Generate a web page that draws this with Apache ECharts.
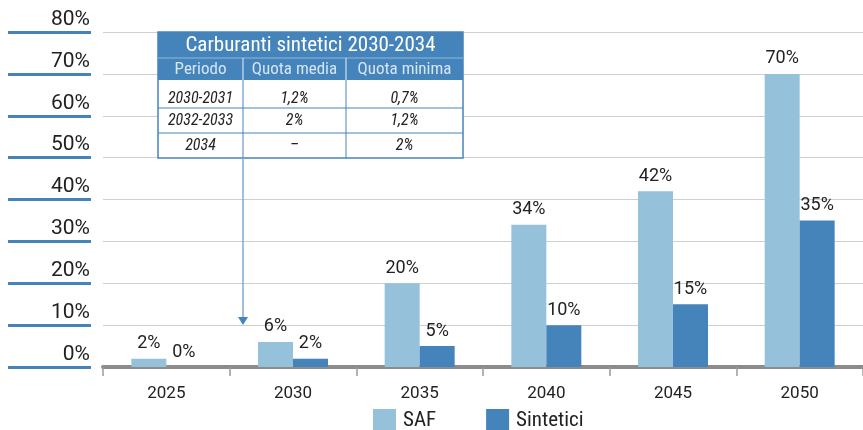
<!DOCTYPE html>
<html>
<head>
<meta charset="utf-8">
<script src="https://cdn.jsdelivr.net/npm/echarts@6/dist/echarts.min.js"></script>
<style>
  html, body { margin: 0; padding: 0; background: #fff; }
  #chart { width: 863px; height: 430px; }
</style>
</head>
<body>
<div id="chart"></div>
<script>
var years = ['2025', '2030', '2035', '2040', '2045', '2050'];
var saf = [2, 6, 20, 34, 42, 70];
var sintetici = [0, 2, 5, 10, 15, 35];

var tableTitle = 'Carburanti sintetici 2030-2034';
var tableHeader = ['Periodo', 'Quota media', 'Quota minima'];
var tableRows = [
  ['2030-2031', '1,2%', '0,7%'],
  ['2032-2033', '2%', '1,2%'],
  ['2034', '–', '2%']
];

var blue = '#4584bb';
var lightBlue = '#96c1da';
var narrow = '"Roboto Condensed", "Liberation Sans Narrow", "DejaVu Sans Condensed", Roboto, sans-serif';

// table box (annotation)
var colX = [158, 243, 346, 463];
var rowY = [32, 58, 80, 108, 133, 158];

function buildTable() {
  var els = [];
  var L = colX[0], R = colX[colX.length - 1];
  els.push({ type: 'rect', shape: { x: L, y: rowY[0], width: R - L, height: rowY[5] - rowY[0] },
    style: { fill: '#fff', stroke: blue, lineWidth: 1.5 }, z: 100 });
  els.push({ type: 'rect', shape: { x: L, y: rowY[0], width: R - L, height: rowY[2] - rowY[0] },
    style: { fill: blue }, z: 101 });
  els.push({ type: 'line', shape: { x1: L, y1: rowY[1], x2: R, y2: rowY[1] },
    style: { stroke: '#8fb6d8', lineWidth: 1 }, z: 102 });
  els.push({ type: 'text', x: (L + R) / 2, y: (rowY[0] + rowY[1]) / 2 + 1, z: 103,
    style: { text: tableTitle, fill: '#fff', font: '21px ' + narrow, align: 'center', verticalAlign: 'middle' } });
  for (var c = 0; c < tableHeader.length; c++) {
    els.push({ type: 'text', x: (colX[c] + colX[c + 1]) / 2, y: (rowY[1] + rowY[2]) / 2 + 1, z: 103,
      style: { text: tableHeader[c], fill: '#d6e5f2', font: '17px ' + narrow, align: 'center', verticalAlign: 'middle' } });
  }
  for (var i = 1; i < colX.length - 1; i++) {
    els.push({ type: 'line', shape: { x1: colX[i], y1: rowY[1], x2: colX[i], y2: rowY[2] },
      style: { stroke: '#e8f0f8', lineWidth: 1 }, z: 102 });
    els.push({ type: 'line', shape: { x1: colX[i], y1: rowY[2], x2: colX[i], y2: rowY[5] },
      style: { stroke: blue, lineWidth: 1 }, z: 102 });
  }
  var textY = [99, 121, 146];
  for (var r = 0; r < tableRows.length; r++) {
    if (r > 0) {
      els.push({ type: 'line', shape: { x1: L, y1: rowY[2 + r], x2: R, y2: rowY[2 + r] },
        style: { stroke: blue, lineWidth: 1 }, z: 102 });
    }
    for (var k = 0; k < tableRows[r].length; k++) {
      els.push({ type: 'text', x: (colX[k] + colX[k + 1]) / 2, y: textY[r], z: 103,
        style: { text: tableRows[r][k], fill: '#222', font: 'italic 16px ' + narrow, align: 'center', verticalAlign: 'middle' } });
    }
  }
  // pointer arrow down to 2030
  els.push({ type: 'line', shape: { x1: 243, y1: rowY[5], x2: 243, y2: 318 },
    style: { stroke: '#7eaad2', lineWidth: 1.5 }, z: 100 });
  els.push({ type: 'polygon', shape: { points: [[238, 317], [248, 317], [243, 325]] },
    style: { fill: blue }, z: 100 });
  return els;
}

var chart = echarts.init(document.getElementById('chart'));
chart.setOption({
  animation: false,
  textStyle: { fontFamily: 'Roboto, sans-serif' },
  grid: { left: 103, right: 0, top: 32, bottom: 63, containLabel: false },
  legend: {
    data: ['SAF', 'Sintetici'],
    left: 373, top: 409, padding: 0,
    icon: 'rect', itemWidth: 23, itemHeight: 23, itemGap: 50,
    textStyle: { fontSize: 21, fontFamily: narrow, color: '#222', padding: [2, 0, 0, 2] }
  },
  xAxis: {
    type: 'category',
    data: years,
    axisLine: { lineStyle: { color: '#8c8c8c', width: 4 } },
    axisTick: { show: true, length: 9, lineStyle: { color: '#9a9a9a', width: 1.5 } },
    axisLabel: { fontSize: 17, color: '#222', margin: 18 }
  },
  yAxis: {
    type: 'value',
    min: 0, max: 80, interval: 10,
    offset: 12,
    axisLine: { show: false },
    axisTick: { show: true, length: 83, lineStyle: { color: blue, width: 3 } },
    axisLabel: { fontSize: 21, color: '#222', margin: 1, verticalAlign: 'bottom', padding: [0, 0, 2, 0],
      formatter: '{value}%' },
    splitLine: { lineStyle: { color: '#cfcfcf', width: 1 } }
  },
  series: [
    {
      name: 'SAF', type: 'bar', data: saf, barWidth: 35, barGap: '0%',
      itemStyle: { color: lightBlue },
      label: { show: true, position: 'top', distance: 6, fontSize: 18, color: '#222', formatter: '{c}%' }
    },
    {
      name: 'Sintetici', type: 'bar', data: sintetici, barWidth: 35,
      itemStyle: { color: blue },
      label: { show: true, position: 'top', distance: 6, fontSize: 18, color: '#222', formatter: '{c}%' }
    }
  ],
  graphic: buildTable()
});
window.onresize = chart.resize;
</script>
</body>
</html>
